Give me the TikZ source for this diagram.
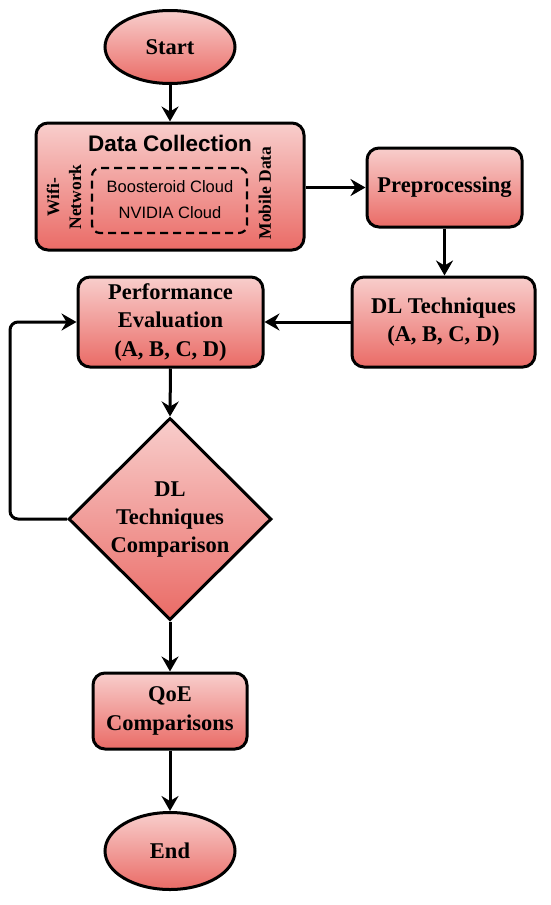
\documentclass[tikz,border=0pt]{standalone}
\usepackage{fontspec}
\setmainfont{Liberation Serif}
\newfontfamily\arialf{Liberation Sans}
\usetikzlibrary{shapes.geometric,arrows.meta}
\definecolor{topc}{HTML}{F8CECC}
\definecolor{botc}{HTML}{EA6B66}
\tikzset{
  fillgrad/.style={top color=topc, bottom color=botc, draw=black, line width=3pt},
  procbox/.style={fillgrad, rounded corners=12pt, inner sep=0pt, align=center,
    font=\fontsize{22.5}{28.5}\selectfont\bfseries},
  term/.style={fillgrad, ellipse, inner sep=0pt, font=\fontsize{22.5}{28}\selectfont\bfseries},
  dec/.style={fillgrad, diamond, inner sep=0pt},
  flow/.style={line width=3pt, -{Stealth[length=15pt,width=17pt,inset=5pt]}},
  lbl/.style={inner sep=0pt, align=center}
}
\begin{document}
\begin{tikzpicture}[x=1pt,y=-1pt]
\useasboundingbox (0,0) rectangle (550,905);
\node[term, minimum width=130pt, minimum height=73pt] (start) at (170,47) {Start};
\node[procbox, minimum width=268pt, minimum height=127pt] (dc) at (170,186.5) {};
\node[lbl, font=\arialf\fontsize{22.5}{26}\selectfont\bfseries] (dctitle) at (170,143) {Data Collection};
\node[draw=black, line width=2.2pt, dash pattern=on 8pt off 5pt, rounded corners=8pt,
  minimum width=155pt, minimum height=65pt, inner sep=0pt] (cloud) at (169.5,200.5) {};
\node[lbl, font=\arialf\fontsize{16.5}{26}\selectfont] (cloudtxt) at (170,199.5) {Boosteroid Cloud\\NVIDIA Cloud};
\node[lbl, rotate=90, font=\fontsize{17.5}{22}\selectfont\bfseries] (wifi) at (64,197) {Wifi-\\Network};
\node[lbl, rotate=90, font=\fontsize{17.5}{22}\selectfont\bfseries] (mobile) at (265,193) {Mobile Data};
\node[procbox, minimum width=155pt, minimum height=79pt] (pre) at (444.5,187.5) {Preprocessing};
\node[procbox, minimum width=183pt, minimum height=90pt] (dlt) at (443.5,322) {DL Techniques\\(A, B, C, D)};
\node[procbox, minimum width=185pt, minimum height=90pt] (pe) at (170.5,322) {Performance\\Evaluation\\(A, B, C, D)};
\node[dec, minimum width=203pt, minimum height=202pt] (cmp) at (170,519) {};
\node[lbl, font=\fontsize{22.5}{28}\selectfont\bfseries] (cmptxt) at (170,520) {DL\\Techniques\\Comparison};
\node[procbox, minimum width=154pt, minimum height=76pt] (qoe) at (170,711) {QoE\\Comparisons};
\node[term, minimum width=130pt, minimum height=77pt] (end) at (170,851) {End};
\coordinate (loopa) at (10,519);
\coordinate (loopb) at (10,322);
\draw[flow] (start) -- (dc);
\draw[flow] (pre.west -| dc.east) -- (pre.west);
\draw[flow] (pre.south) -- (pre.south |- dlt.north);
\draw[flow] (dlt.west) -- (pe.east);
\draw[flow] (pe.south) -- (cmp.north);
\draw[flow, rounded corners=8pt] (cmp.west) -- (loopa) -- (loopb) -- (pe.west);
\draw[flow] (cmp.south) -- (qoe.north);
\draw[flow] (qoe.south) -- (end.north);
\end{tikzpicture}
\end{document}
